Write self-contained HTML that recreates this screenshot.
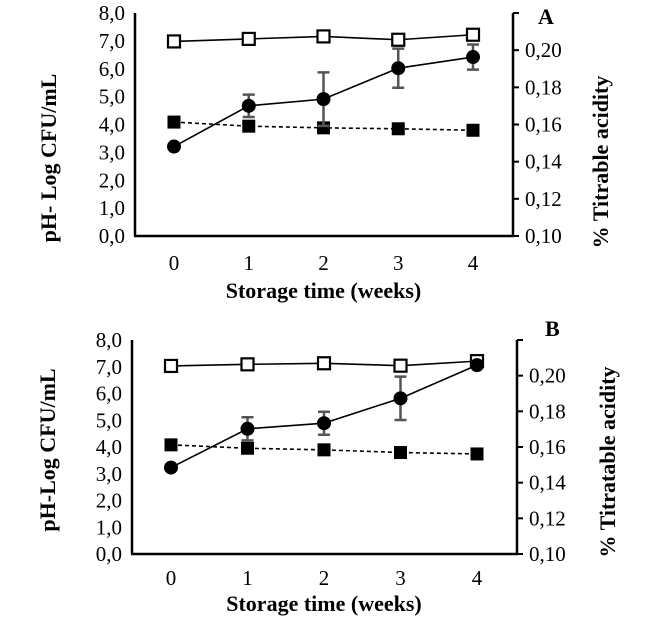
<!DOCTYPE html>
<html><head><meta charset="utf-8"><style>
html,body{margin:0;padding:0;background:#fff}
svg text{font-family:"Liberation Serif",serif;fill:#000}
</style></head><body>
<svg id="c" width="650" height="622" viewBox="0 0 650 622"></svg>
<script>
const weeks=[0,1,2,3,4];
const leftTicks=["0,0","1,0","2,0","3,0","4,0","5,0","6,0","7,0","8,0"];
const rightTicks=["0,10","0,12","0,14","0,16","0,18","0,20",""];
const cfuA=[3.21,4.67,4.91,6.02,6.42];
const cfuErrA=[0,0.4,0.96,0.7,0.45];
const phA=[6.98,7.07,7.16,7.04,7.22];
const taA=[0.1613,0.1591,0.1582,0.1577,0.1569];
const cfuB=[3.23,4.68,4.89,5.82,7.06];
const cfuErrB=[0,0.43,0.43,0.81,0];
const phB=[7.03,7.09,7.13,7.04,7.21];
const taB=[0.1612,0.1593,0.1584,0.1569,0.1561];

const svg=document.getElementById('c');
const NS='http://www.w3.org/2000/svg';
function el(t,a,p){const e=document.createElementNS(NS,t);for(const k in a)e.setAttribute(k,a[k]);(p||svg).appendChild(e);return e;}

function panel(o){
  const g=el('g',{});
  
  
  const yL=v=>o.bot-(o.bot-o.top)*v/8;
  const yR=v=>o.bot-(o.bot-o.top)*(v-0.10)/0.12;
  const x=i=>o.x0+(o.x4-o.x0)*weeks[i]/4;
  const la=el('line',{x1:o.ax,y1:o.top,x2:o.ax,y2:o.bot,stroke:'#000','stroke-width':2.5},g);
  
  const ba=el('line',{x1:o.ax-1,y1:o.bot,x2:o.rx+1,y2:o.bot,stroke:'#000','stroke-width':2.5},g);
  
  const ra=el('line',{x1:o.rx,y1:o.top,x2:o.rx,y2:o.bot,stroke:'#000','stroke-width':2.5},g);
  
  leftTicks.forEach((t,i)=>{
    const tx=el('text',{x:o.ax-10,y:yL(i)+7,'text-anchor':'end','font-size':21},g);tx.textContent=t;
    
  });
  rightTicks.forEach((t,i)=>{
    const v=0.10+0.02*i;
    el('line',{x1:o.rx,y1:yR(v),x2:o.rx+6,y2:yR(v),stroke:'#000','stroke-width':2},g);
    if(t){const tx=el('text',{x:o.rx+12,y:yR(v)+7,'font-size':21},g);tx.textContent=t;
    }
  });
  weeks.forEach((w,i)=>{
    const tx=el('text',{x:x(i),y:o.xl,'text-anchor':'middle','font-size':21},g);tx.textContent=w;
    
  });
  const xt=el('text',{x:(o.x0+o.x4)/2,y:o.xt,'text-anchor':'middle','font-size':22,'font-weight':'bold'},g);xt.textContent='Storage time (weeks)';
  
  const yt=el('text',{x:0,y:0,'text-anchor':'middle','font-size':22,'font-weight':'bold',transform:`translate(${o.ytx},${o.yty}) rotate(-90)`},g);yt.textContent=o.ylab;
  
  const rt=el('text',{x:0,y:0,'text-anchor':'middle','font-size':22,'font-weight':'bold',transform:`translate(${o.rtx},${o.rty}) rotate(-90)`},g);rt.textContent=o.rlab;
  
  const pl=el('text',{x:o.lx,y:o.ly,'font-size':22,'font-weight':'bold'},g);pl.textContent=o.id;
  
  const pp=el('polyline',{points:o.ph.map((v,i)=>x(i)+','+yL(v)).join(' '),fill:'none',stroke:'#000','stroke-width':1.6},g);
  
  const tp=el('polyline',{points:o.ta.map((v,i)=>x(i)+','+yR(v)).join(' '),fill:'none',stroke:'#000','stroke-width':1.6,'stroke-dasharray':'4,3'},g);
  
  const cp=el('polyline',{points:o.cfu.map((v,i)=>x(i)+','+yL(v)).join(' '),fill:'none',stroke:'#000','stroke-width':1.6},g);
  
  o.ta.forEach((v,i)=>{
    const r=el('rect',{x:x(i)-6.5,y:yR(v)-6.5,width:13,height:13,fill:'#000'},g);
    
  });
  o.ph.forEach((v,i)=>{
    const r=el('rect',{x:x(i)-6,y:yL(v)-6,width:12,height:12,fill:'#fff',stroke:'#000','stroke-width':2.2},g);
    
  });
  o.cfu.forEach((v,i)=>{
    const e=o.err[i];
    if(e>0){
      const eb=el('path',{d:`M${x(i)},${yL(v-e)}V${yL(v+e)}M${x(i)-6},${yL(v+e)}h12M${x(i)-6},${yL(v-e)}h12`,stroke:'#555','stroke-width':2.5,fill:'none'},g);
      
    }
    const c=el('circle',{cx:x(i),cy:yL(v),r:7,fill:'#000'},g);
    
  });
}
panel({id:'A',ax:135,rx:513,top:13,bot:236,x0:174,x4:473,xl:270,xt:298,ytx:56,yty:158,rtx:608,rty:162,lx:538,ly:24,
  ylab:'pH- Log CFU/mL',rlab:'% Titrable acidity',cfu:cfuA,err:cfuErrA,ph:phA,ta:taA});
panel({id:'B',ax:132,rx:517,top:340,bot:554,x0:171,x4:477,xl:585,xt:611,ytx:55,yty:450,rtx:615,rty:462,lx:545,ly:336,
  ylab:'pH-Log CFU/mL',rlab:'% Titratable acidity',cfu:cfuB,err:cfuErrB,ph:phB,ta:taB});
</script>
</body></html>
